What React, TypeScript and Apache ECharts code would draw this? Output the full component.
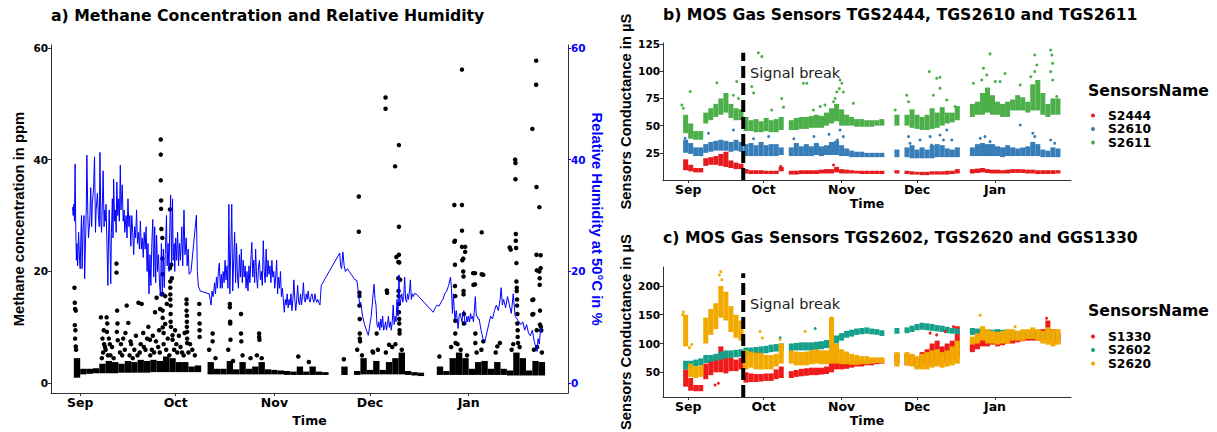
import React, { useEffect, useRef } from "react";
import * as echarts from "echarts";

// Day index: 0 = 22 Aug, 10 = 1 Sep, 40 = 1 Oct, 71 = 1 Nov, 101 = 1 Dec, 132 = 1 Jan
const MONTH_TICKS = [10, 40, 71, 101, 132];
const MONTH_LABELS = ["Sep", "Oct", "Nov", "Dec", "Jan"];
const BAND_START = 8;
const BAND_STEP = 2;
const SIGNAL_BREAK_DAY = 31.9;
const BREAK_TOP_B = 117;
const BREAK_TOP_C = 222;

type Band = ([number, number] | null)[];

// Relative humidity at 50 °C (%)
const humidity: [number, number][] = [
  [7.6,31.5],[7.8,30],[8.0,32],[8.2,29],[8.4,39.2],[8.6,28],[8.8,22],[9.0,25],[9.2,21],[9.5,27],[9.8,22],[10.0,20.5],[10.2,26],[10.4,30],[10.6,20.5],[10.9,28],[11.2,30],[11.4,18.7],[11.7,26],[11.9,31],[12.1,40.8],[12.4,30],[12.6,26],[13.0,29],[13.3,35],[13.6,28],[13.8,32],[14.2,35],[14.5,40.5],[14.8,27],[15.0,31],[15.4,34],[15.7,30],[16.0,28],[16.2,41.3],[16.5,29],[16.7,27],[17.0,33],[17.2,38],[17.5,28],[17.7,31],[18.0,29],[18.1,32],[18.4,25],[18.7,17.5],[18.9,26],[19.1,31],[19.4,24],[19.6,17.8],[19.8,27],[20.1,33],[20.3,26],[20.5,36.5],[20.8,29],[21.0,31],[21.3,27],[21.5,36],[21.8,30],[22.0,33],[22.3,29],[22.6,39],[22.8,31],[23.0,33],[23.2,35.5],[23.5,29],[23.8,31],[24.0,27],[24.4,30],[24.7,26],[25.0,33],[25.3,28],[25.6,30],[25.9,24.5],[26.2,30],[26.5,27],[26.8,23],[27.1,28],[27.4,26],[27.7,31],[28.0,25],[28.3,27],[28.6,24],[28.9,29],[29.2,24],[29.5,26],[29.8,22.5],[30.1,27],[30.4,24],[30.7,28],[31.0,20],[31.3,25],[31.6,16],[31.9,23],[32.2,17.5],[32.5,25],[32.8,29.3],[33.1,19],[33.4,28],[33.7,18],[34.0,26.5],[34.3,20],[34.6,23],[34.9,18],[35.2,15.6],[35.5,25],[35.8,15.6],[36.1,24],[36.4,17.1],[36.7,23],[37.1,30],[37.3,21],[37.6,25],[37.9,20],[38.1,27],[38.4,33.7],[38.7,21],[39.0,33],[39.2,22],[39.5,25],[39.7,20],[40.0,26],[40.3,22],[40.6,27],[40.9,21],[41.2,25],[41.5,22],[41.9,28],[42.2,21],[42.6,31],[42.9,23],[43.3,26],[43.6,21],[43.9,24],[44.2,19.5],[44.8,20],[46.5,30.1],[46.8,20],[47.1,17.4],[47.7,16.5],[50.5,16],[50.8,15],[51.1,14],[51.4,16.5],[51.7,15.5],[51.9,16],[52.2,18],[52.5,16],[52.8,19],[53.1,17],[53.4,20],[53.7,21.5],[54.0,17],[54.3,19.5],[54.6,17],[54.9,20],[55.2,18],[55.5,22],[55.8,18.5],[56.1,21],[56.4,17],[56.7,32],[57.0,16],[57.3,24],[57.6,32],[57.9,16.5],[58.2,22],[58.5,27],[58.8,18],[59.1,25],[59.4,19],[59.7,17],[60.0,23],[60.3,19],[60.6,24],[60.9,18],[61.2,22],[61.5,19],[61.8,21],[62.1,17],[62.4,20],[62.7,16.5],[63.0,21],[63.3,18],[63.6,22],[63.9,25.2],[64.2,19],[64.5,22],[64.8,18],[65.1,24],[65.4,19],[65.7,17],[66.0,21],[66.3,22],[66.6,18.5],[66.9,20],[67.2,17.5],[67.5,25.5],[67.8,20],[68.1,18],[68.4,24],[68.7,19],[69.0,22],[69.3,19.5],[69.6,21],[69.9,18],[70.2,22],[70.5,19],[70.8,20],[71.1,17],[71.4,19],[71.7,22],[72.0,16],[72.3,19],[72.6,17],[72.9,20],[73.2,15.5],[73.5,17],[73.8,15],[74.1,12.7],[74.4,15],[74.7,14],[75.0,16],[75.3,13.5],[75.6,15],[75.9,14],[76.2,16],[76.5,13],[76.8,15],[77.1,18.5],[77.4,15],[77.7,13],[78.0,15],[78.3,17.5],[78.6,14.5],[78.9,14],[79.2,16],[79.5,14],[79.8,15.5],[80.1,18],[80.4,15],[80.7,14.5],[81.0,16],[81.3,15],[81.6,16.5],[81.9,15],[82.2,14.5],[82.5,15.5],[82.8,16],[83.1,15],[83.4,14.5],[83.7,16],[84.0,15],[84.3,14.5],[84.6,15],[84.9,14.5],[85.3,14],[85.7,17.5],[91.5,23.3],[91.8,21],[92.1,20.5],[92.5,23.5],[92.9,21],[93.3,20],[93.9,20.5],[94.5,20],[95.1,19.5],[95.7,19],[96.3,18.5],[96.9,18.4],[97.5,15.5],[97.8,14],[98.1,14.5],[98.7,12],[99.3,10.5],[99.9,9.5],[100.5,8.6],[101.1,11],[101.4,12],[101.7,14],[102.0,16],[102.3,17.7],[102.6,15],[102.9,14],[103.2,10.5],[103.5,10],[103.8,11],[104.1,9.5],[104.4,11.5],[104.7,10],[105.0,12],[105.3,9.5],[105.6,10],[105.9,11],[106.2,9.5],[106.5,10.5],[106.8,12],[107.1,10],[107.4,11],[107.7,9.5],[108.0,11],[108.3,14],[108.6,10.5],[108.9,12],[109.2,11],[109.5,15],[109.8,12],[110.1,19.4],[110.4,14],[110.7,15],[111.0,16],[111.3,14.5],[111.6,15.5],[111.9,19],[112.2,15],[112.5,14.5],[112.8,16],[113.1,15],[113.4,16.5],[113.7,18.5],[114.0,15],[114.3,16],[114.6,15.5],[114.9,16],[115.5,16],[120.9,12.7],[121.5,13.5],[122.1,14],[122.7,13.8],[123.3,14.5],[123.9,15],[124.5,16],[125.1,16.5],[125.7,17.5],[126.3,19],[126.6,17],[126.9,12.5],[127.2,16],[127.5,13],[127.7,11.5],[128.1,13],[128.7,9.8],[129.0,12],[129.3,12.5],[129.9,11],[130.2,12.5],[130.5,13],[130.8,11],[131.1,10.5],[131.4,12],[131.7,11],[132.0,12],[132.3,11],[132.6,12.5],[132.9,11.5],[133.2,12],[133.5,11],[134.1,15.5],[134.4,12],[134.7,12],[135.0,11.5],[135.3,11.5],[135.9,9.5],[136.5,8],[137.1,7.5],[137.7,9],[138.3,10.5],[138.9,12],[139.5,11.5],[140.1,13],[140.7,14],[141.3,13],[141.9,15],[142.2,17.1],[142.6,14],[143.0,15],[143.6,13.5],[144.2,15.5],[144.8,14],[145.4,12.5],[146.0,16],[146.6,12],[147.2,11.5],[147.8,11],[148.4,10.5],[149.0,11],[149.6,9.5],[150.2,10.5],[150.8,9],[151.4,8.5],[152.0,9.5],[152.6,7.5],[153.0,6.6],[153.5,5.7],[153.8,8],[154.2,7],[154.6,10],[155.0,9]
];

// Methane (ppm): dense low band per 2-day step [low, high], plus scattered readings
const methaneBand: Band = [
  [1.0,4.5],[1.6,2.6],[1.7,2.6],[1.8,2.7],[1.8,3.5],[1.8,4.0],[1.8,3.8],[1.9,3.5],[1.9,4.0],[1.9,3.8],[1.9,4.2],[1.9,4.0],[2.0,4.2],[2.0,4.0],[2.0,4.8],[2.0,4.5],[2.0,3.8],[2.0,3.8],[2.0,3.0],[2.0,3.2],
  null,
  [1.6,3.8],[1.6,2.6],[1.6,2.6],[1.6,4.0],[1.6,2.5],[1.6,3.8],[1.6,2.6],[1.6,3.0],[1.6,3.8],[1.6,2.5],[1.6,2.4],[1.6,2.3],[1.5,2.2],[1.5,2.1],[1.5,3.0],[1.5,2.1],[1.5,3.0],[1.5,2.1],[1.5,2.0],
  null, null, [1.5,3.0], null,
  [1.5,2.2],[1.6,4.5],[1.6,2.4],[1.6,4.0],[1.6,2.4],[1.6,3.8],[1.6,4.5],[1.6,5.5],[1.5,2.2],[1.4,2.0],[1.3,1.9],
  null, null,
  [1.5,3.0],[1.5,2.2],[1.5,4.5],[1.5,5.5],[1.5,4.5],[1.5,2.6],[1.5,3.8],[1.5,4.0],[1.5,2.6],[1.5,3.8],[1.5,2.6],[1.4,2.3],[1.4,5.5],[1.4,4.5],[1.4,2.3],[1.4,4.0],[1.4,3.8],
  null
];
const methanePoints: [number, number][] = [
  [8.2,17.1],[8.3,14.4],[8.4,13.3],[8.6,13.0],[8.3,10.4],[8.5,9.5],[8.4,8.0],[8.6,6.6],[8.7,6.0],
  [16.5,11.8],[17.0,8.0],[17.5,7.0],[18.3,11.8],[18.5,10.7],[18.4,9.2],[19.0,8.0],[20.0,6.5],[17.8,6.5],
  [21.4,21.4],[21.4,19.8],[21.6,13.0],[21.7,10.7],[21.5,9.2],[21.8,7.7],
  [24.6,13.9],[25.1,10.8],[23.5,8.0],[26.0,7.0],[28.3,14.4],[29.3,14.2],[31.4,10.1],[31.9,7.8],[33.5,12.7],[34.0,15.3],[35.1,13.3],[35.6,15.9],
  [35.3,43.6],[35.3,40.9],[35.3,36.3],[35.4,32.7],[35.4,31.2],[35.5,27.6],[35.8,26],[35.8,22.3],[35.9,19.5],[35.8,16],[35.9,13],[35.9,11.7],[35.9,10],
  [38.2,31.1],[38.2,20.6],[38.3,18.2],[38.3,17.1],[38.3,15.9],[38.3,15],[38.4,13.9],[38.4,12.4],[38.4,11],[38.5,10.1],[38.6,21.2],[38.8,18.8],[39.0,8.6],[39.0,7.8],
  [36.7,15.6],[36.7,10.6],[37.2,14.2],
  [43.4,15],[43.4,14.2],[43.4,13],[43.5,12.1],[43.5,11],[43.5,10.1],[43.6,9.2],[43.6,8.0],[43.6,7.2],
  [47.4,14.2],[47.4,12.4],[47.5,10.7],[47.5,9.5],[47.5,8.3],
  [51.6,8.9],[51.6,7.5],
  [57.0,14.2],[57.0,13.6],[57.1,11],[57.1,10.7],[57.2,7.8],
  [60.5,12.4],[60.5,8.9],[60.6,7.5],
  [66.2,8.9],[66.2,8.3],[66.3,7.8],
  [78.5,4.8],[81.8,3.8],[92.8,4.3],
  [97.5,33.4],[97.5,27.1],[97.7,16.2],[97.7,15.6],[97.7,13.9],[97.8,11.5],[97.8,8.9],[97.8,8.0],[97.9,7.5],
  [103.1,8.9],[101.8,5.7],
  [105.9,51.1],[105.9,49.1],[106.3,16.6],[106.4,16.2],[107.0,6.9],
  [108.9,38.8],[110.1,42.6],[110.1,28],[110.1,23],[110.2,21.6],[109.9,21.7],[109.9,18.8],[110.0,16.5],[110.0,15.6],[110.1,14.2],[110.1,12.7],[110.2,11.5],[110.2,10.7],[110.3,9.5],[110.3,8.9],[109.3,22.6],[110.5,18.5],
  [122.8,4.8],
  [127.5,31.9],[127.5,25.3],[127.7,25.5],[127.7,21.2],[127.7,17.4],[127.8,15.6],[127.8,11.2],[127.8,8.9],[127.9,7.2],
  [129.9,56.1],[129.9,31.9],[129.9,27.3],[129.9,24.4],[130.0,22],[130.3,22.3],[130.3,20],[130.4,19.1],[130.4,16.5],[130.4,15.9],[130.5,12.4],[130.5,10.7],[130.9,24.4],[130.9,23.5],
  [133.4,19.7],[133.5,17.6],[134.0,19.7],[134.0,17.7],[134.1,8.9],[134.1,7.2],
  [136.1,27],[136.1,19.5],[136.6,19.4],[136.6,7.5],
  [141.0,6.6],[141.8,7.2],[144.9,24.3],[145.2,23.9],
  [146.6,40],[146.7,39.4],[146.7,36.5],[146.8,26.7],[146.8,25.5],[146.9,24.2],[147.0,21.5],[147.0,18.2],[147.1,17.1],[147.1,16.5],[147.2,15],[147.2,13.9],[147.3,12.4],[147.3,10.7],[147.4,9.5],[147.4,8.3],[147.5,7.2],
  [152.0,45.5],[152.0,14.9],[152.0,12.3],[152.3,15],[152.3,12.4],
  [153.2,57.7],[153.2,53.4],[153.3,35.1],[153.3,23],[153.4,20.2],[153.4,9.5],
  [154.2,31.5],[154.2,20],[154.3,18.8],[154.3,17.6],[154.4,13],[154.4,10.5],[154.6,22.9],[154.6,20.6],[154.7,10.1],[154.8,9.5],
  [17.2,5.5],[18.0,6],[19.5,5],[22.5,5.5],[24,6],[25.5,5],[27,6],[28.7,5.5],[30,6.5],[32.5,6],[33.2,5.5],[34.5,6.5],[36.2,7],[37,6],[39.5,6],[40.5,5.5],[41.5,6.5],[42.5,5],[44,5.5],[46,5],[50.5,6],[52.5,4.5],[56.5,6],[58,4],[61,5],[63.5,4.5],[65.5,5],[67,4.5],
  [97,6],[98.5,5],[102,5.5],[103.5,6],[106,5.5],[108,6.5],[109,7],[111,6],[126.5,6.5],[128.5,7],[129.5,6],[131.5,5],[134.5,5.5],[136,6],[140.5,5.5],[145.5,6],[146,7],[148,6.5],[152.5,6],[153.5,6.5],[155,5.5],
  [16.8,4.5],[17.4,9.5],[18.7,5],[19.3,7],[20.5,4.5],[22.8,7],[23.2,5],[24.2,9],[25.8,7.5],[26.5,4.5],[27.5,8.5],[28,5],[29,7],[29.8,9],[30.5,6],[31,8],[32,5],[32.8,8.5],[33.8,7.5],[34.8,9.5],[35,5.5],[36.2,9],[37.5,8],[38,5],[39.8,9.5],[40.2,7],[41,8.5],[42,5.5],[42.8,9],[44.5,7],[45.2,6]
];

// Panel b: conductance bands (µS) per 2-day step [low, high]
const s2444Band: Band = [
  [9,19],[8,14],[7,11],[7,11],[13,20],[14,21],[14,22],[13,24],[12,26],[11,18],[10,16],[10,15],[6,10],[5.5,9],[5.5,9],[5.5,9],[5.5,8.5],[5.5,8.5],[5.5,8.5],[8,12],
  null,
  [5,8.5],[5,8.5],[5.5,9],[5.5,9],[5.5,9],[5.5,9],[6,9.5],[6,10],[6,10],[7,12],[6,10],[6,9.5],[6,9],[6,8.5],[5.5,8.5],[5.5,8.5],[5.5,8.5],[5.5,8.5],[5.5,8.5],
  null, null, [6,9], null,
  [5.5,8.5],[5,8],[5,7.5],[4.5,7.5],[4.5,7.5],[5,8],[5,8],[5,8],[5,8.5],[5.5,8.5],[6,10],
  null, null,
  [6,10],[6.5,10.5],[7,11],[6.5,10],[6,9.5],[6,9.5],[6,9],[6,9.5],[6.5,10],[6.5,10],[6.5,10],[6,9.5],[6,9.5],[5.5,9],[5.5,9],[5.5,9],[5.5,9],[6,9]
];
const s2610Band: Band = [
  [25,37],[24,34],[22,30],[22,30],[25,33],[26,35],[27,36],[27,37],[27,36],[26,35],[27,37],[26,35],[22,33],[22,34],[22,32],[22,35],[22,32],[22,33],[22,33],[23,30],
  null,
  [22,30],[22,34],[22,31],[22,33],[22,31],[23,34],[22,31],[23,32],[23,35],[23,36],[22,32],[22,29],[21,27],[21,26],[21,26],[21,25],[21,25],[21,25],[21,25],
  null, null, [21,28], null,
  [21,30],[20,32],[20,28],[20,30],[20,28],[20,32],[21,33],[21,32],[21,29],[21,28],[21,30],
  null, null,
  [22,30],[22,33],[22,34],[22,33],[22,33],[22,31],[21,30],[22,32],[22,30],[22,29],[22,30],[22,31],[22,35],[22,33],[21,28],[21,27],[21,30],[21,29]
];
const s2611Band: Band = [
  [43,60],[38,52],[37,45],[37,45],[52,62],[55,66],[58,70],[60,75],[62,80],[57,70],[55,66],[55,65],[45,58],[45,55],[44,56],[44,54],[45,57],[44,55],[44,56],[46,58],
  null,
  [46,55],[46,57],[47,58],[47,58],[48,59],[48,60],[48,59],[50,62],[52,66],[54,70],[50,65],[50,60],[50,58],[49,56],[49,56],[49,55],[49,55],[50,55],[50,56],
  null, null, [50,60], null,
  [50,60],[48,65],[47,60],[46,58],[46,60],[47,66],[48,62],[50,67],[52,62],[53,62],[55,68],
  null, null,
  [58,70],[60,72],[60,80],[62,85],[60,78],[60,72],[58,70],[58,72],[64,74],[64,78],[64,76],[62,72],[64,88],[64,92],[60,80],[58,70],[60,75],[60,75]
];
const s2444Points: [number, number][] = [[46.8,12.5],[67.8,13.8]];
const s2610Points: [number, number][] = [
  [8.8,38.3],[18.1,43],[28,46],[36,38],[42,40],[52,38],[60,40],[66,42],[70.4,46],[71.7,39.9],[69.3,36.8],[97.6,39.9],[98.2,33.7],[102.2,36.8],[106.2,39.9],[106.8,32.2],[110.1,41.4],[111.5,36.8],[112.8,46],[114.8,36.8],[126.1,38.3],[128,39.9],[130,35.3],[142,50.6],[147,43],[147.8,39.9],[154.1,36.8],[155.7,33.7]
];
const s2611Points: [number, number][] = [
  [10.8,81.3],[7.5,69],[8.1,66],[21.4,89.5],[29.3,90.5],[30,75],[28,78],[37.9,117],[39.3,113.5],[35.3,86],[36,80],[47.2,75],[47.9,67],[43.2,64.4],[55.8,89],[57.2,89],[70.4,92],[71.1,89],[70.1,84],[69.1,81],[71.7,81],[67.8,72],[68.4,75],[75.7,70.5],[64.4,69],[59.8,64.4],[62.5,67.5],[92.3,64.4],[96.9,78],[97.6,72],[105.9,99.7],[107.5,78],[108.8,93.5],[110.1,94.5],[110.1,84.3],[112.8,73.6],[116.1,67.5],[130,116],[127.4,102.7],[128.7,96.6],[126.7,92],[136,98],[134,90.5],[123.4,89],[147.8,115],[147.8,99.7],[148.6,105.8],[146.2,95],[154.1,119.6],[154.6,115],[154.9,107.3],[154.1,99.7],[154.9,92],[142,87.4],[156.5,76.7],[132.1,90.5]
];

// Panel c
const s1330Band: Band = [
  [25,55],[18,40],[17,28],[17,28],[38,65],[45,72],[50,78],[50,95],[48,85],[52,75],[52,72],[55,75],[32,50],[33,48],[33,47],[34,47],[35,48],[35,48],[38,55],[40,60],
  null,
  [40,52],[42,54],[43,56],[44,57],[45,58],[45,58],[46,58],[47,60],[50,95],[55,80],[55,70],[56,68],[58,68],[60,70],[60,70],[62,70],[62,72],[64,72],[65,72],
  null, null, [65,82], null,
  [62,82],[62,80],[58,75],[60,85],[62,90],[62,100],[64,105],[66,95],[68,100],[70,105],[75,130],
  null, null,
  [85,105],[90,110],[95,118],[95,115],[98,118],[95,115],[97,115],[100,120],[100,118],[102,118],[104,120],[105,120],[105,122],[105,122],[105,125],[105,140],[100,125],[100,120]
];
const s2602Band: Band = [
  [55,70],[58,70],[60,72],[62,74],[66,80],[68,80],[70,82],[72,86],[74,88],[75,88],[76,89],[77,90],[80,93],[80,93],[81,94],[82,95],[83,96],[85,98],[86,99],[87,100],
  null,
  [87,100],[88,101],[88,102],[88,102],[88,102],[89,103],[90,104],[92,106],[95,110],[100,114],[105,118],[110,122],[112,124],[115,126],[116,127],[117,128],[116,126],[115,125],[113,123],
  null, null, [117,127], null,
  [118,128],[120,131],[123,134],[124,136],[123,135],[122,134],[121,132],[120,131],[118,129],[117,127],[116,126],
  null, null,
  [115,127],[114,126],[114,126],[113,125],[112,124],[112,125],[112,124],[111,123],[110,122],[110,122],[110,121],[109,120],[109,120],[108,119],[108,119],[107,118],[106,117],[106,117]
];
const s2620Band: Band = [
  [95,150],[42,65],[40,60],[42,62],[100,145],[115,160],[125,170],[145,200],[140,190],[120,165],[110,150],[105,140],[55,88],[58,86],[55,84],[55,84],[55,80],[55,80],[60,82],[65,100],
  null,
  [65,88],[62,86],[62,85],[62,86],[64,88],[65,90],[64,88],[64,88],[65,145],[65,100],[64,90],[64,86],[63,82],[63,80],[64,78],[64,78],[65,76],[66,76],[66,76],
  null, null, [60,85], null,
  [62,85],[60,82],[55,78],[55,82],[55,85],[58,88],[60,90],[58,85],[60,88],[62,95],[65,105],
  null, null,
  [98,112],[100,118],[105,130],[100,125],[100,122],[98,120],[100,122],[100,125],[105,125],[105,122],[105,125],[108,125],[108,128],[105,125],[100,122],[98,128],[95,125],[98,125]
];
const s1330Points: [number, number][] = [[20.7,28],[22,31],[106.2,118],[108.8,115],[112.1,121],[115.5,129.3],[152.5,143.9]];
const s2602Points: [number, number][] = [[46.6,110],[60.5,126]];
const s2620Points: [number, number][] = [[8.1,154.6],[7.8,150],[10.5,92.8],[11.4,98.4],[23,224.9],[22.4,219],[23.4,210.8],[38.6,120.9],[39.5,109.6],[56.5,120.9],[67.1,144.5],[126.1,149],[140,129.3],[46.5,107]];

const FONT = "DejaVu Sans";
const FONT_NARROW = "Liberation Sans";
const AXIS_COLOR = "#333333";

function bandData(b: Band) {
  const out: number[][] = [];
  b.forEach((v, i) => {
    if (v) out.push([BAND_START + i * BAND_STEP, v[0], v[1]]);
  });
  return out;
}

function bandSeries(name: string, color: string, band: Band, xi: number, yi: number) {
  return {
    type: "custom",
    name,
    xAxisIndex: xi,
    yAxisIndex: yi,
    clip: true,
    itemStyle: { color },
    encode: { x: 0, y: [1, 2] },
    data: bandData(band),
    renderItem: (_params: any, api: any) => {
      const d = api.value(0);
      const a = api.coord([d, api.value(2)]);
      const b = api.coord([d + BAND_STEP, api.value(1)]);
      return {
        type: "rect",
        shape: { x: a[0], y: a[1], width: b[0] - a[0], height: b[1] - a[1] },
        style: { fill: color },
      };
    },
  };
}

function pointSeries(name: string, color: string, pts: [number, number][], xi: number, yi: number, size: number) {
  return {
    type: "scatter",
    name,
    xAxisIndex: xi,
    yAxisIndex: yi,
    symbolSize: size,
    itemStyle: { color, opacity: 1 },
    data: pts,
  };
}

function xAxis(gridIndex: number, min: number, max: number) {
  return {
    type: "value",
    gridIndex,
    min,
    max,
    axisLine: { show: true, onZero: false, lineStyle: { color: AXIS_COLOR, width: 1 } },
    axisTick: { show: true, customValues: MONTH_TICKS, length: 3, lineStyle: { color: AXIS_COLOR } },
    axisLabel: {
      customValues: MONTH_TICKS,
      formatter: (v: number) => {
        const i = MONTH_TICKS.indexOf(Math.round(v));
        return i >= 0 ? MONTH_LABELS[i] : "";
      },
      margin: 3,
      color: "#000",
      fontFamily: FONT,
      fontWeight: "bold",
      fontSize: 12.5,
    },
    splitLine: { show: false },
    name: "Time",
    nameLocation: "middle",
    nameGap: 16,
    nameTextStyle: { color: "#000", fontFamily: FONT, fontWeight: "bold", fontSize: 12.5 },
  };
}

function yAxis(gridIndex: number, min: number, max: number, ticks: number[], opts: any) {
  const labelColor = opts.labelColor || "#000";
  return {
    type: "value",
    gridIndex,
    min,
    max,
    position: opts.position || "left",
    axisLine: { show: true, onZero: false, lineStyle: { color: AXIS_COLOR, width: 1 } },
    axisTick: { show: true, customValues: ticks, length: 3, lineStyle: { color: opts.tickColor || AXIS_COLOR } },
    axisLabel: { customValues: ticks, margin: 3, color: labelColor, fontFamily: FONT, fontWeight: "bold", fontSize: 10.5 },
    splitLine: { show: false },
    name: opts.name,
    nameLocation: "middle",
    nameGap: opts.nameGap,
    nameRotate: opts.nameRotate,
    nameTextStyle: { color: opts.nameColor || "#000", fontFamily: FONT_NARROW, fontWeight: "bold", fontSize: 14.8 },
  };
}

const legendText = { color: "#000", fontFamily: FONT, fontWeight: "bold", fontSize: 12.3, lineHeight: 13 };

export default function App() {
  const ref = useRef<HTMLDivElement>(null);
  useEffect(() => {
    if (!ref.current) return;
    const chart = echarts.init(ref.current, undefined, { renderer: "svg" });
    const option: any = {
      animation: false,
      backgroundColor: "#ffffff",
      title: [
        { text: "a) Methane Concentration and Relative Humidity", left: 51, top: 7, padding: 0, textStyle: { color: "#000", fontFamily: FONT, fontWeight: "bold", fontSize: 15.7 } },
        { text: "b) MOS Gas Sensors TGS2444, TGS2610 and TGS2611", left: 663, top: 6, padding: 0, textStyle: { color: "#000", fontFamily: FONT, fontWeight: "bold", fontSize: 15.7 } },
        { text: "c) MOS Gas Sensors TGS2602, TGS2620 and GGS1330", left: 663, top: 229, padding: 0, textStyle: { color: "#000", fontFamily: FONT, fontWeight: "bold", fontSize: 15.7 } },
      ],
      grid: [
        { left: 51, top: 45, width: 517, height: 356 },
        { left: 663, top: 43, width: 408, height: 137 },
        { left: 663, top: 267, width: 408, height: 134 },
      ],
      xAxis: [xAxis(0, 0.83, 163.2), xAxis(1, 0, 162.2), xAxis(2, 0, 162.2)],
      yAxis: [
        yAxis(0, -1.75, 60.5, [0, 20, 40, 60], { name: "Methane concentration in ppm", nameGap: 25, nameRotate: 90 }),
        yAxis(0, -1.75, 60.5, [0, 20, 40, 60], { position: "right", name: "Relative Humidity at 50°C in %", nameGap: 19, nameRotate: -90, labelColor: "#0000ff", nameColor: "#0000ff", tickColor: "#0000ff" }),
        yAxis(1, 0, 126, [25, 50, 75, 100, 125], { name: "Sensors Conductance in µS", nameGap: 30, nameRotate: 90 }),
        yAxis(2, 7, 233, [50, 100, 150, 200], { name: "Sensors Conductance in µS", nameGap: 30, nameRotate: 90 }),
      ],
      legend: [
        { data: ["S2444", "S2610", "S2611"], orient: "vertical", left: 1086, top: 104, icon: "circle", itemWidth: 20, itemHeight: 4, itemGap: 0.5, selectedMode: false, textStyle: legendText },
        { data: ["S1330", "S2602", "S2620"], orient: "vertical", left: 1086, top: 325, icon: "circle", itemWidth: 20, itemHeight: 4, itemGap: 0.5, selectedMode: false, textStyle: legendText },
      ],
      graphic: [
        { type: "text", left: 1088, top: 82, style: { text: "SensorsName", fill: "#000", font: `bold 15.7px "${FONT}"` } },
        { type: "text", left: 1088, top: 302, style: { text: "SensorsName", fill: "#000", font: `bold 15.7px "${FONT}"` } },
        { type: "text", left: 750, top: 65, style: { text: "Signal break", fill: "#222", font: `14.5px "${FONT}"` } },
        { type: "text", left: 750, top: 296, style: { text: "Signal break", fill: "#222", font: `14.5px "${FONT}"` } },
      ],
      series: [
        bandSeries("Methane", "#000000", methaneBand, 0, 0),
        pointSeries("Methane", "#000000", methanePoints, 0, 0, 4.5),
        {
          type: "line",
          name: "Humidity",
          xAxisIndex: 0,
          yAxisIndex: 1,
          data: humidity,
          symbol: "none",
          lineStyle: { color: "#0000ff", width: 1 },
          z: 5,
        },
        bandSeries("S2444", "#E41A1C", s2444Band, 1, 2),
        pointSeries("S2444", "#E41A1C", s2444Points, 1, 2, 3),
        bandSeries("S2610", "#377EB8", s2610Band, 1, 2),
        pointSeries("S2610", "#377EB8", s2610Points, 1, 2, 3),
        bandSeries("S2611", "#4DAF4A", s2611Band, 1, 2),
        pointSeries("S2611", "#4DAF4A", s2611Points, 1, 2, 3),
        {
          type: "line",
          name: "break-b",
          xAxisIndex: 1,
          yAxisIndex: 2,
          data: [[SIGNAL_BREAK_DAY, 0], [SIGNAL_BREAK_DAY, BREAK_TOP_B]],
          symbol: "none",
          lineStyle: { color: "#000", width: 4, type: [12, 5] },
          z: 6,
        },
        bandSeries("S1330", "#EF1B1B", s1330Band, 2, 3),
        pointSeries("S1330", "#EF1B1B", s1330Points, 2, 3, 3),
        bandSeries("S2602", "#14A08A", s2602Band, 2, 3),
        pointSeries("S2602", "#14A08A", s2602Points, 2, 3, 3),
        bandSeries("S2620", "#F2A900", s2620Band, 2, 3),
        pointSeries("S2620", "#F2A900", s2620Points, 2, 3, 3),
        {
          type: "line",
          name: "break-c",
          xAxisIndex: 2,
          yAxisIndex: 3,
          data: [[SIGNAL_BREAK_DAY, 7], [SIGNAL_BREAK_DAY, BREAK_TOP_C]],
          symbol: "none",
          lineStyle: { color: "#000", width: 4, type: [12, 5] },
          z: 6,
        },
      ],
    };
    chart.setOption(option);
    return () => chart.dispose();
  }, []);
  return <div ref={ref} style={{ position: "absolute", left: 0, top: 0, width: 1217, height: 432 }} />;
}
